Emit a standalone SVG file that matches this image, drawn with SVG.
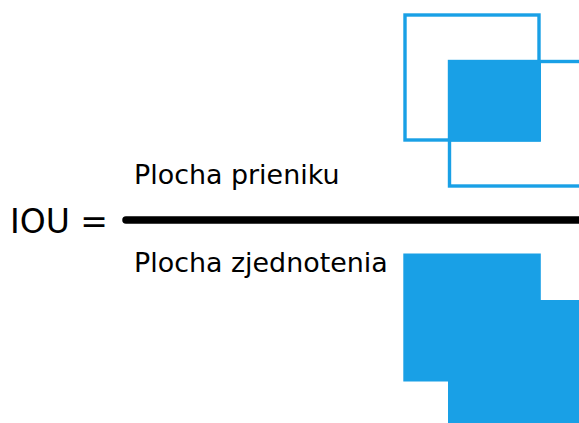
<svg xmlns="http://www.w3.org/2000/svg" width="579" height="423" viewBox="0 0 579 423">
<style>
.t{font-family:"DejaVu Sans",sans-serif;fill:#000}
.o{fill:none;stroke:#19a0e6;stroke-width:3.4}
.f{fill:#19a0e6}
</style>
<rect width="579" height="423" fill="#fff"/>
<g id="formula">
<text class="t" x="10" y="232.5" font-size="33">IOU =</text>
<line x1="126" y1="220" x2="590" y2="220" stroke="#000" stroke-width="7.5" stroke-linecap="round"/>
</g>
<g id="numerator-label"><text class="t" x="134" y="184.3" font-size="26.9">Plocha prieniku</text></g>
<g id="denominator-label"><text class="t" x="134" y="272" font-size="26.9">Plocha zjednotenia</text></g>
<g id="intersection">
<rect class="o" x="405" y="15" width="134" height="125"/>
<rect class="o" x="449.5" y="61.5" width="140" height="124.5"/>
<rect class="f" x="448" y="60" width="93" height="81.5"/>
</g>
<g id="union">
<rect class="f" x="403.3" y="253.5" width="137.5" height="128"/>
<rect class="f" x="448" y="300" width="131" height="123"/>
</g>
</svg>
